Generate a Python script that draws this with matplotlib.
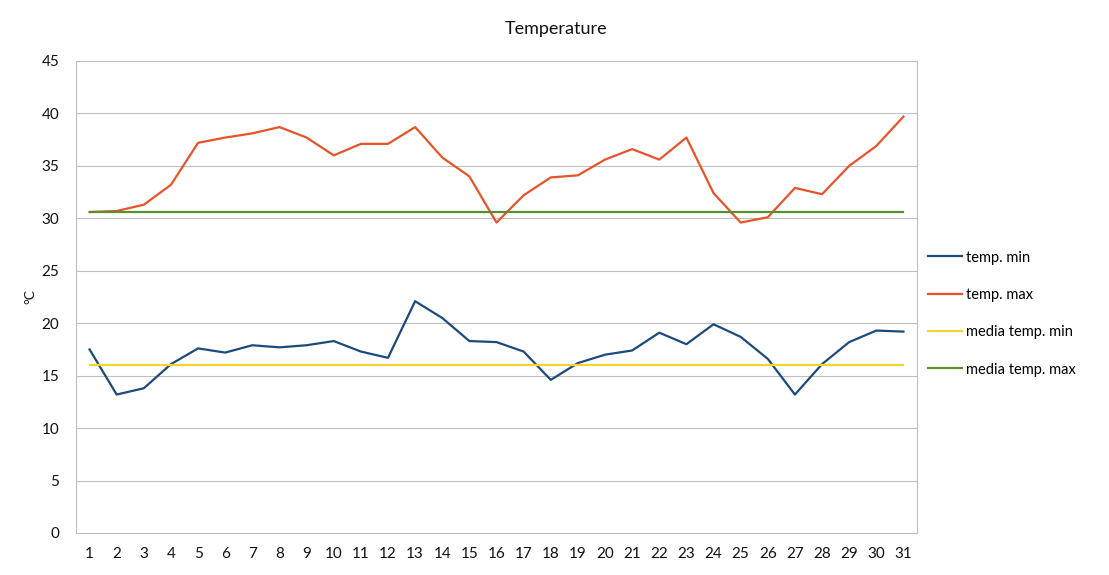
import matplotlib
matplotlib.use("Agg")
import matplotlib.pyplot as plt
import numpy as np

# giorni del mese
days = list(range(1, 32))

# temperature minime giornaliere (°C)
temp_min = [17.5, 13.2, 13.8, 16.1, 17.6, 17.2, 17.9, 17.7, 17.9, 18.3,
            17.3, 16.7, 22.1, 20.5, 18.3, 18.2, 17.3, 14.6, 16.2, 17.0,
            17.4, 19.1, 18.0, 19.9, 18.7, 16.6, 13.2, 16.1, 18.2, 19.3, 19.2]

# temperature massime giornaliere (°C)
temp_max = [30.6, 30.7, 31.3, 33.2, 37.2, 37.7, 38.1, 38.7, 37.7, 36.0,
            37.1, 37.1, 38.7, 35.8, 34.0, 29.6, 32.2, 33.9, 34.1, 35.6,
            36.6, 35.6, 37.7, 32.4, 29.6, 30.1, 32.9, 32.3, 35.0, 36.9, 39.7]

# medie (linee orizzontali)
media_min = 16.05
media_max = 30.6

labels = ["temp. min", "temp. max", "media temp. min", "media temp. max"]

plt.rcParams['font.family'] = ['Lato', 'DejaVu Sans']

fig = plt.figure(figsize=(11.09, 5.75), dpi=100)
ax = fig.add_axes([76 / 1109, 1 - 533 / 575, (917 - 76) / 1109, (533 - 61) / 575])

ax.plot(days, temp_min, color='#1B4A7D', lw=1.6, label=labels[0])
ax.plot(days, temp_max, color='#E8532A', lw=1.6, label=labels[1])
ax.plot(days, [media_min] * len(days), color='#F5D22D', lw=1.6, label=labels[2])
ax.plot(days, [media_max] * len(days), color='#5A8F2E', lw=1.6, label=labels[3])

ax.set_xlim(0.5, 31.5)
ax.set_ylim(0, 45)
ax.set_yticks(np.arange(0, 46, 5))
ax.set_xticks(days)
ax.grid(axis='y', color='#BFBFBF', lw=0.8)
ax.set_axisbelow(True)
for s in ax.spines.values():
    s.set_color('#BFBFBF')
    s.set_linewidth(0.8)
ax.tick_params(length=0, labelsize=11, colors='#111111')
ax.tick_params(axis='y', pad=12)
ax.tick_params(axis='x', pad=10)

fig.text(556 / 1109, 1 - 29 / 575, "Temperature", ha='center', va='center', fontsize=13, color='#111111')
fig.text(30 / 1109, 1 - 297 / 575, "°C", ha='center', va='center', rotation=90, fontsize=10, color='#111111')

ax.legend(loc='center left', bbox_to_anchor=(0.998, 0.465), frameon=False, fontsize=10.5,
          handlelength=2.3, handletextpad=0.3, labelspacing=1.6)

fig.savefig("out.png", dpi=100)
